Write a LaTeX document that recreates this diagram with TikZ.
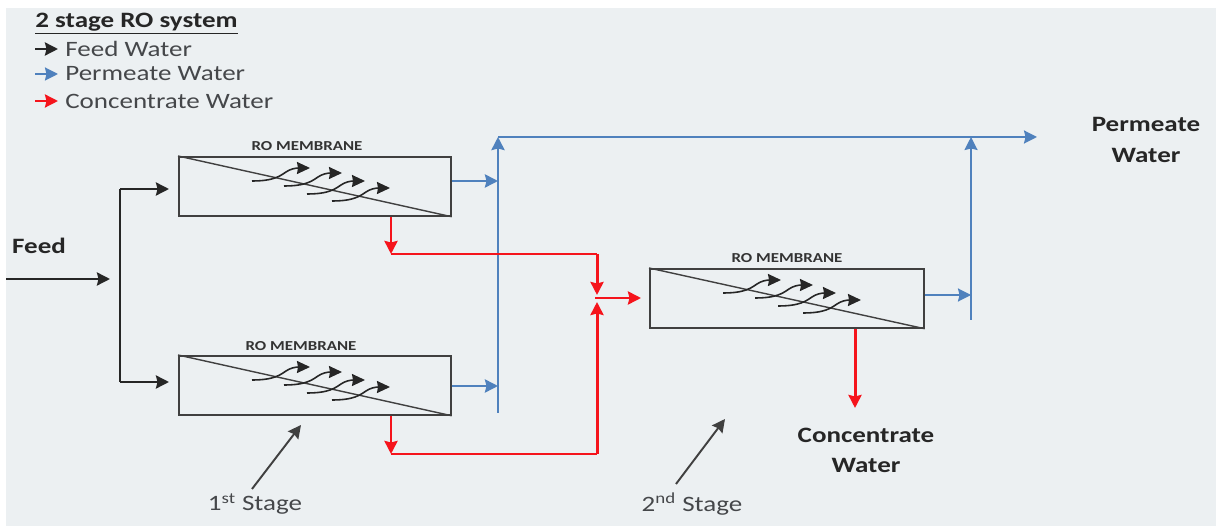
\documentclass[tikz,border=0pt]{standalone}
\usepackage{fontspec}
\setmainfont{Carlito}[FakeStretch=1.23]
\usetikzlibrary{arrows.meta}
\definecolor{bggrey}{HTML}{ECF0F2}
\definecolor{txtgrey}{HTML}{45474A}
\definecolor{permblue}{HTML}{4F81BD}
\definecolor{concred}{HTML}{F5141C}
\tikzset{
    membrane/.style={draw=black!75,line width=1pt,minimum width=5.44cm,minimum height=1.18cm,inner sep=0pt,anchor=north west},
    romem/.style={font=\fontsize{7.8}{8}\selectfont\bfseries,text=black!80,inner sep=0pt},
    boldlab/.style={font=\fontsize{12.5}{13}\selectfont\bfseries,text=black!85,inner sep=0pt},
    leglab/.style={font=\fontsize{12.5}{13}\selectfont,text=txtgrey,inner sep=0pt,anchor=west},
    feedline/.style={->,black!85,line width=1.5pt},
    permline/.style={->,permblue,line width=1.6pt},
    concline/.style={->,concred,line width=1.7pt},
    swirls/.pic={
        \foreach \sx/\sy in {74/25,106/30,129/38,154/45}
            \draw[->,black!85,line width=.9pt,>={Stealth[length=2.6mm,width=2.4mm,inset=.2mm]}](\sx,\sy)..controls(\sx+22,\sy)and(\sx+28,\sy-5)..(\sx+34,\sy-9)..controls(\sx+38,\sy-12)and(\sx+44,\sy-13)..(\sx+58,\sy-13);
    }
}
\begin{document}
\begin{tikzpicture}[x=.02cm,y=-.02cm,>={Stealth[length=2.6mm,width=2.6mm,inset=.3mm]}]
    \useasboundingbox(0,0)rectangle(1216,526);
    \fill[bggrey](6,8)rectangle(1216,526);
    % legend
    \node[boldlab,anchor=west](title)at(35,24){\underline{2 stage RO system}};
    \node[leglab](legfeed)at(65,49){Feed Water};
    \node[leglab](legperm)at(65,74){Permeate Water};
    \node[leglab](legconc)at(65,101){Concentrate Water};
    \coordinate(lf)at(35,49);\coordinate(lp)at(35,74);\coordinate(lc)at(35,101);
    \coordinate(lfe)at(58,49);\coordinate(lpe)at(58,74);\coordinate(lce)at(58,101);
    \draw[feedline](lf)--(lfe);
    \draw[permline,line width=1.2pt](lp)--(lpe);
    \draw[concline,line width=1.4pt](lc)--(lce);
    % membranes
    \node[membrane](memA)at(178,156){};
    \node[membrane](memB)at(178,355){};
    \node[membrane,minimum width=5.48cm](memC)at(649,268){};
    \foreach \m in {memA,memB,memC}{
        \draw[black!75,line width=.8pt](\m.north west)--(\m.south east);
        \path(\m.north west)pic{swirls};
    }
    \node[romem](labA)at(307,146){RO MEMBRANE};
    \node[romem](labB)at(301,346){RO MEMBRANE};
    \node[romem](labC)at(787,258){RO MEMBRANE};
    % feed
    \node[boldlab](feed)at(39,246){Feed};
    \coordinate(fa)at(6,279);\coordinate(fb)at(110,279);
    \coordinate(ft)at(120,189);\coordinate(fd)at(120,382);
    \coordinate(fte)at(169,189);\coordinate(fde)at(169,382);
    \draw[feedline](fa)--(fb);
    \draw[black!85,line width=1.5pt](ft)--(fd);
    \draw[feedline](ft)--(fte);
    \draw[feedline](fd)--(fde);
    % permeate
    \coordinate(pa)at(498,413);\coordinate(pb)at(498,137);\coordinate(pc)at(1037,137);
    \coordinate(pd)at(971,320);\coordinate(pe)at(971,137);
    \draw[permline](pa)--(pb);
    \draw[permline,line width=1.2pt](pb)--(pc);
    \draw[permline,line width=1.1pt](pd)--(pe);
    \draw[permline](memA.east|-0,181)--(498,181);
    \draw[permline](memB.east|-0,386)--(498,386);
    \draw[permline,line width=1.2pt](memC.east|-0,295)--(971,295);
    \node[boldlab](permA)at(1146,124){Permeate};
    \node[boldlab](permB)at(1146,155){Water};
    % concentrate
    \coordinate(ca)at(391,254);\coordinate(cb)at(597,254);\coordinate(cc)at(597,295);
    \coordinate(cd)at(391,454);\coordinate(ce)at(597,454);\coordinate(cf)at(597,302);
    \coordinate(cg)at(595,298);\coordinate(ch)at(641,298);\coordinate(ci)at(855,408);
    \draw[concline](memA.south west-|ca)--(ca);
    \draw[concline,line width=.9pt,-](ca)--(cb);
    \draw[concline](cb)--(cc);
    \draw[concline](memB.south west-|cd)--(cd);
    \draw[concline,line width=.9pt,-](cd)--(ce);
    \draw[concline](ce)--(cf);
    \draw[concline](cg)--(ch);
    \draw[concline](memC.south west-|ci)--(ci);
    \node[boldlab](concA)at(866,435){Concentrate};
    \node[boldlab](concB)at(866,465){Water};
    % stages
    \node[leglab,anchor=center](stA)at(255,504){1\textsuperscript{st} Stage};
    \node[leglab,anchor=center](stB)at(692,504){2\textsuperscript{nd} Stage};
    \coordinate(sa)at(252,489);\coordinate(sb)at(301,425);
    \coordinate(sc)at(676,484);\coordinate(sd)at(725,419);
    \draw[->,black!75,line width=1.1pt](sa)--(sb);
    \draw[->,black!75,line width=1.1pt](sc)--(sd);
\end{tikzpicture}
\end{document}
